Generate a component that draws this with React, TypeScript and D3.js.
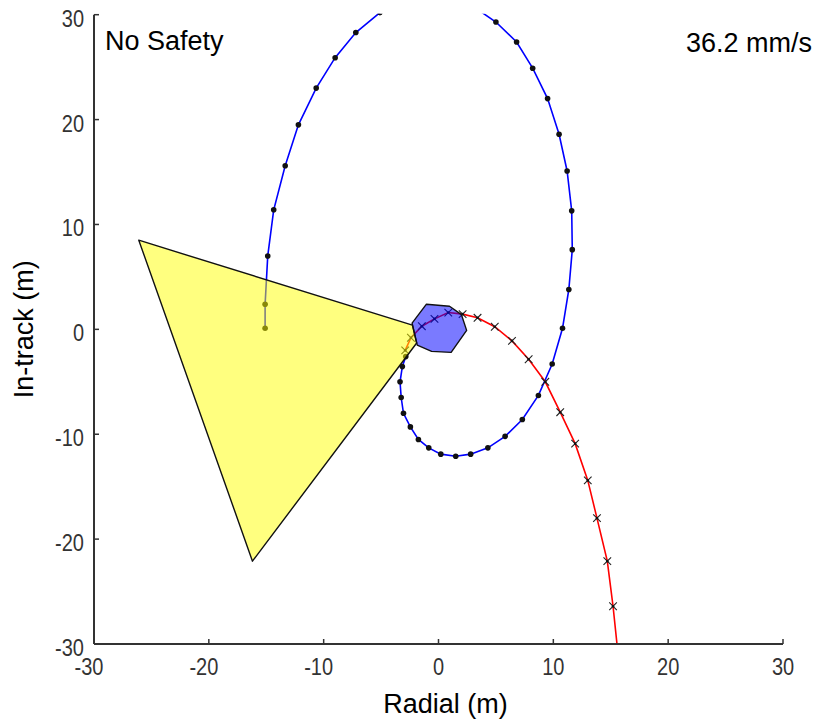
import React from "react";
import * as d3 from "d3";

const xTicks = [-30, -20, -10, 0, 10, 20, 30];
const yTicks = [-30, -20, -10, 0, 10, 20, 30];

// Blue trajectory (radial, in-track) in metres
const blueX = [-15.1, -15.1, -14.87, -14.35, -13.35, -12.2, -10.65, -9.0, -7.2, -5.1, -2.4, 0.4, 3.0, 5.0, 6.8, 8.2, 9.5, 10.5, 11.2, 11.6, 11.65, 11.35, 10.8, 9.9, 8.7, 7.3, 5.8, 4.3, 2.8, 1.5, 0.2, -0.85, -1.75, -2.45, -3.05, -3.25, -3.35, -3.15, -2.85];
const blueY = [0.1, 2.4, 7.0, 11.4, 15.6, 19.5, 23.0, 25.9, 28.3, 30.2, 31.3, 31.6, 30.8, 29.3, 27.4, 24.9, 22.0, 18.6, 15.1, 11.3, 7.6, 3.8, 0.1, -3.3, -6.3, -8.6, -10.2, -11.3, -11.9, -12.1, -11.9, -11.3, -10.5, -9.3, -8.0, -6.5, -5.0, -3.55, -2.6];

// Red trajectory
const redX = [-2.9, -2.4, -1.45, -0.35, 0.85, 2.1, 3.4, 4.9, 6.4, 7.85, 9.3, 10.6, 11.9, 13.0, 13.8, 14.7, 15.2, 15.6];
const redY = [-2.0, -0.8, 0.3, 1.0, 1.6, 1.45, 1.1, 0.25, -1.1, -2.85, -5.0, -7.9, -10.9, -14.4, -18.0, -22.1, -26.4, -30.6];

// Keep-out cone (yellow) and target body (blue hexagon)
const coneX = [-26.1, -2.27, -1.9, -16.2];
const coneY = [8.5, 0.4, -1.3, -22.1];
const hexX = [-2.3, -1.05, 0.96, 2.0, 2.45, 1.1, -0.6, -1.85];
const hexY = [0.6, 2.4, 2.2, 1.4, -0.1, -2.2, -2.1, -1.5];

const titleLeft = "No Safety";
const titleRight = "36.2 mm/s";
const xLabel = "Radial (m)";
const yLabel = "In-track (m)";

export default function App() {
  const W = 817, H = 723;
  const x = d3.scaleLinear().domain([-30, 30]).range([94, 783]);
  const y = d3.scaleLinear().domain([-30, 30]).range([644, 14.7]);
  const line = d3.line<number>().x((d) => x(blueX[d])).y((d) => y(blueY[d]));
  const blueIdx = blueX.map((_, i) => i);
  const redIdx = redX.map((_, i) => i);
  const redLine = d3.line<number>().x((d) => x(redX[d])).y((d) => y(redY[d]));
  const poly = (xs: number[], ys: number[]) =>
    xs.map((v, i) => `${x(v)},${y(ys[i])}`).join(" ");
  const font = "Arial, 'Liberation Sans', sans-serif";
  const axisColor = "#333";

  return (
    <svg width={W} height={H} style={{ position: "absolute", left: 0, top: 0, background: "#fff" }}>
      <defs>
        <clipPath id="plotClip">
          <rect x={x(-30)} y={y(30) - 1} width={x(30) - x(-30)} height={y(-30) - y(30) + 1} />
        </clipPath>
      </defs>
      <g clipPath="url(#plotClip)">
        <path d={line(blueIdx) || ""} fill="none" stroke="#0000ff" strokeWidth={1.6} />
        {blueIdx.map((i) => (
          <circle key={"b" + i} cx={x(blueX[i])} cy={y(blueY[i])} r={2.8} fill="#111" />
        ))}
        <path d={redLine(redIdx) || ""} fill="none" stroke="#ff0000" strokeWidth={1.6} />
        {redIdx.slice(0, redIdx.length - 1).map((i) => {
          const cx = x(redX[i]), cy = y(redY[i]), s = 3.8;
          return (
            <g key={"r" + i}>
              <path d={`M${cx - s},${cy - s}L${cx + s},${cy + s}M${cx - s},${cy + s}L${cx + s},${cy - s}`} stroke="#222" strokeWidth={1.1} fill="none" />
              <circle cx={cx} cy={cy} r={1.3} fill="#111" />
            </g>
          );
        })}
        <polygon points={poly(coneX, coneY)} fill="#ffff00" fillOpacity={0.5} stroke="#111" strokeWidth={1.4} strokeLinejoin="round" />
        <polygon points={poly(hexX, hexY)} fill="#0000ff" fillOpacity={0.52} stroke="#111" strokeWidth={1.4} strokeLinejoin="round" />
      </g>

      {/* axes */}
      <line x1={x(-30)} x2={x(30)} y1={y(-30)} y2={y(-30)} stroke={axisColor} strokeWidth={2} />
      <line x1={x(-30)} x2={x(-30)} y1={y(-30)} y2={y(30)} stroke={axisColor} strokeWidth={2} />
      {xTicks.map((t) => (
        <g key={"xt" + t}>
          <line x1={x(t)} x2={x(t)} y1={y(-30)} y2={y(-30) - 5} stroke={axisColor} strokeWidth={1.5} />
          <text transform={`translate(${x(t) + (t < 0 ? -5 : 0)},675) scale(1,1.15)`} textAnchor="middle" fontFamily={font} fontSize={20} fill="#333">{t}</text>
        </g>
      ))}
      {yTicks.map((t) => (
        <g key={"yt" + t}>
          <line x1={x(-30)} x2={x(-30) + 5} y1={y(t)} y2={y(t)} stroke={axisColor} strokeWidth={1.5} />
          <text transform={`translate(84,${y(t) + 12}) scale(1,1.15)`} textAnchor="end" fontFamily={font} fontSize={20} fill="#333">{t}</text>
        </g>
      ))}

      <text x={105} y={50} fontFamily={font} fontSize={27} fill="#000">{titleLeft}</text>
      <text x={812} y={52} textAnchor="end" fontFamily={font} fontSize={27} fill="#000">{titleRight}</text>
      <text x={(x(-30) + x(30)) / 2 + 7} y={713} textAnchor="middle" fontFamily={font} fontSize={27} fill="#000">{xLabel}</text>
      <text transform={`translate(33,${y(0)}) rotate(-90)`} textAnchor="middle" fontFamily={font} fontSize={27} fill="#000">{yLabel}</text>
    </svg>
  );
}
